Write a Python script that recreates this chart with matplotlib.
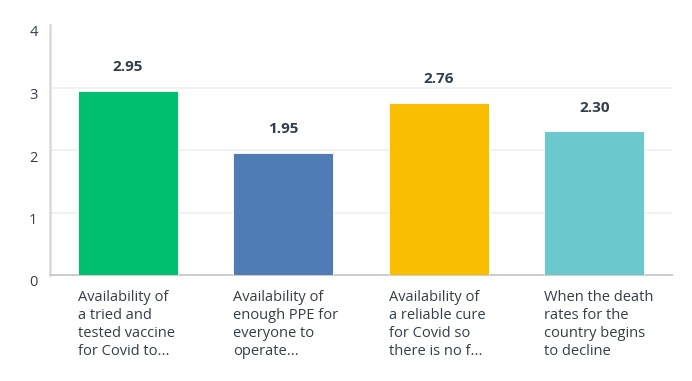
import matplotlib
matplotlib.use('Agg')
import matplotlib.pyplot as plt
import matplotlib.transforms as mtransforms

categories = [
    'Availability of\na tried and\ntested vaccine\nfor Covid to...',
    'Availability of\nenough PPE for\neveryone to\noperate...',
    'Availability of\na reliable cure\nfor Covid so\nthere is no f...',
    'When the death\nrates for the\ncountry begins\nto decline',
]
values = [2.95, 1.95, 2.76, 2.30]
colors = ['#00bf6f', '#507cb6', '#f9be00', '#6bc8cd']
yticks = [0, 1, 2, 3, 4]

plt.rcParams['font.family'] = ['Open Sans', 'DejaVu Sans']

fig = plt.figure(figsize=(6.92, 3.81), dpi=100)
ax = fig.add_axes([50 / 692, 106 / 381, 622 / 692, 250 / 381])

x = range(len(values))
width = 0.643
bars = ax.bar(x, values, width=width, color=colors, edgecolor='white', linewidth=0.6, zorder=3)

for b, v in zip(bars, values):
    ax.annotate(f'{v:.2f}', (b.get_x() + b.get_width() / 2, v), xytext=(0, 12),
                textcoords='offset points', ha='center', va='bottom',
                fontsize=11, fontweight='bold', color='#333e48')

ax.set_xlim(-0.5, len(values) - 0.5)
ax.set_ylim(0, 4)
ax.set_yticks(yticks)
ax.set_yticklabels([str(t) for t in yticks])
ax.tick_params(axis='y', length=0, pad=9, labelsize=10.5, labelcolor='#333e48')
offset = mtransforms.ScaledTranslation(0, -6 / 100, fig.dpi_scale_trans)
for lab in ax.get_yticklabels():
    lab.set_transform(lab.get_transform() + offset)

ax.set_xticks([i - width / 2 for i in x])
ax.set_xticklabels(categories, ha='left', va='top', linespacing=1.25)
ax.tick_params(axis='x', length=0, pad=11, labelsize=10.5, labelcolor='#333e48')

ax.grid(axis='y', color='#efefef', linewidth=1.2, zorder=0)
ax.yaxis.get_gridlines()[-1].set_visible(False)
ax.set_axisbelow(True)

for s in ['top', 'right']:
    ax.spines[s].set_visible(False)
ax.spines['left'].set_color('#d9d9d9')
ax.spines['left'].set_linewidth(1.8)
ax.spines['bottom'].set_color('#cccccc')
ax.spines['bottom'].set_linewidth(1.4)

fig.savefig('out.png', dpi=100)
